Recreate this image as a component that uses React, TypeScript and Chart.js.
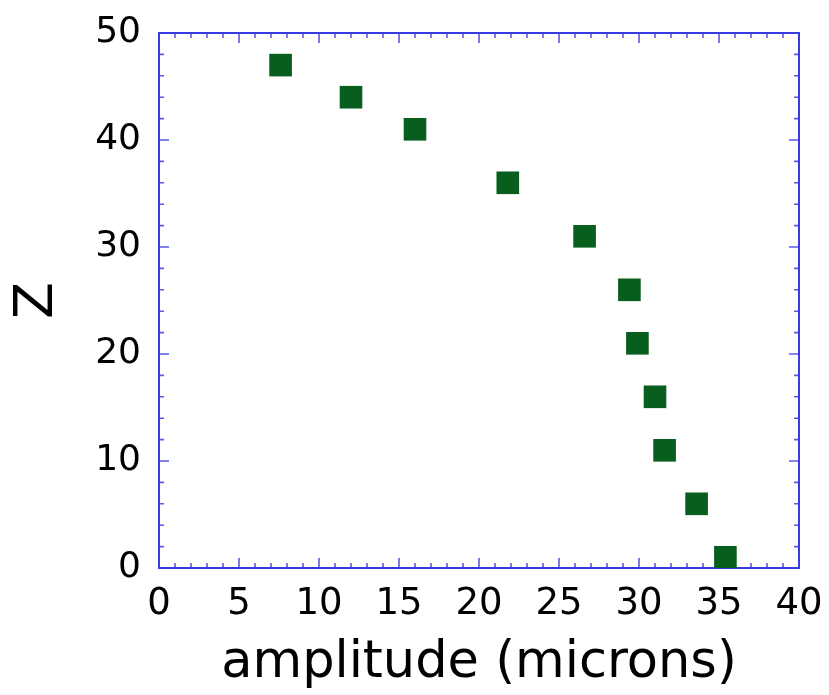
import React, { useEffect, useRef } from "react";
import { Chart, registerables } from "chart.js";

Chart.register(...registerables);

const amplitude = [7.6, 12.0, 16.0, 21.8, 26.6, 29.4, 29.9, 31.0, 31.6, 33.6, 35.4];
const zValues = [47, 44, 41, 36, 31, 26, 21, 16, 11, 6, 1];
const xTickLabels = ["0", "5", "10", "15", "20", "25", "30", "35", "40"];
const yTickLabels = ["0", "10", "20", "30", "40", "50"];

const FONT = "'DejaVu Sans', 'Liberation Sans', Arial, sans-serif";
const FRAME = "#3a3ae2";
const TICK = "#5a5ae8";

const framePlugin = {
  id: "frameTicks",
  beforeDatasetsDraw(chart: any) {
    const { ctx, chartArea } = chart;
    const xs = chart.scales.x;
    const ys = chart.scales.y;
    const { left, right, top, bottom } = chartArea;
    ctx.save();
    ctx.strokeStyle = TICK;
    ctx.lineWidth = 1.6;
    ctx.beginPath();
    for (let v = xs.min; v <= xs.max + 1e-9; v += 1) {
      const px = xs.getPixelForValue(v);
      const len = Math.abs(v % 5) < 1e-9 ? 10 : 5;
      ctx.moveTo(px, bottom);
      ctx.lineTo(px, bottom - len);
      ctx.moveTo(px, top);
      ctx.lineTo(px, top + len);
    }
    for (let v = ys.min; v <= ys.max + 1e-9; v += 2) {
      const py = ys.getPixelForValue(v);
      const len = Math.abs(v % 10) < 1e-9 ? 10 : 5;
      ctx.moveTo(left, py);
      ctx.lineTo(left + len, py);
      ctx.moveTo(right, py);
      ctx.lineTo(right - len, py);
    }
    ctx.stroke();
    ctx.strokeStyle = FRAME;
    ctx.lineWidth = 2;
    ctx.strokeRect(left, top, right - left, bottom - top);
    ctx.restore();
  },
};

export default function App() {
  const ref = useRef<HTMLCanvasElement>(null);
  useEffect(() => {
    if (!ref.current) return;
    const chart = new Chart(ref.current, {
      type: "scatter",
      data: {
        datasets: [
          {
            data: amplitude.map((a, i) => ({ x: a, y: zValues[i] })),
            pointStyle: "rect",
            radius: 16,
            hoverRadius: 16,
            backgroundColor: "#075e1d",
            borderColor: "#075e1d",
            borderWidth: 0,
          },
        ],
      },
      options: {
        animation: false,
        responsive: true,
        maintainAspectRatio: false,
        layout: { padding: { top: 33, right: 30, left: 0, bottom: 0 } },
        plugins: { legend: { display: false }, tooltip: { enabled: false } },
        scales: {
          x: {
            type: "linear",
            min: 0,
            max: 40,
            afterFit: (s: any) => {
              s.height = 127;
              s.paddingLeft = 0;
              s.paddingRight = 0;
            },
            afterBuildTicks: (s: any) => {
              s.ticks = xTickLabels.map((t) => ({ value: Number(t) }));
            },
            border: { display: false },
            grid: { display: false, drawTicks: false },
            ticks: {
              padding: 14,
              color: "#000",
              font: { family: FONT, size: 37 },
              maxRotation: 0,
            },
            title: {
              display: true,
              text: "amplitude (microns)",
              color: "#000",
              font: { family: FONT, size: 51 },
              padding: { top: 0, bottom: 1 },
            },
          },
          y: {
            type: "linear",
            min: 0,
            max: 50,
            afterFit: (s: any) => {
              s.width = 159;
              s.paddingTop = 0;
              s.paddingBottom = 0;
            },
            afterBuildTicks: (s: any) => {
              s.ticks = yTickLabels.map((t) => ({ value: Number(t) }));
            },
            border: { display: false },
            grid: { display: false, drawTicks: false },
            ticks: {
              padding: 18,
              color: "#000",
              font: { family: FONT, size: 36 },
            },
            title: {
              display: true,
              text: "Z",
              color: "#000",
              font: { family: FONT, size: 54 },
              padding: { top: 6, bottom: 0 },
            },
          },
        },
      },
      plugins: [framePlugin],
    });
    return () => chart.destroy();
  }, []);
  return (
    <div style={{ position: "fixed", left: 0, top: 0, width: 829, height: 695, background: "#fff" }}>
      <canvas ref={ref} />
    </div>
  );
}
